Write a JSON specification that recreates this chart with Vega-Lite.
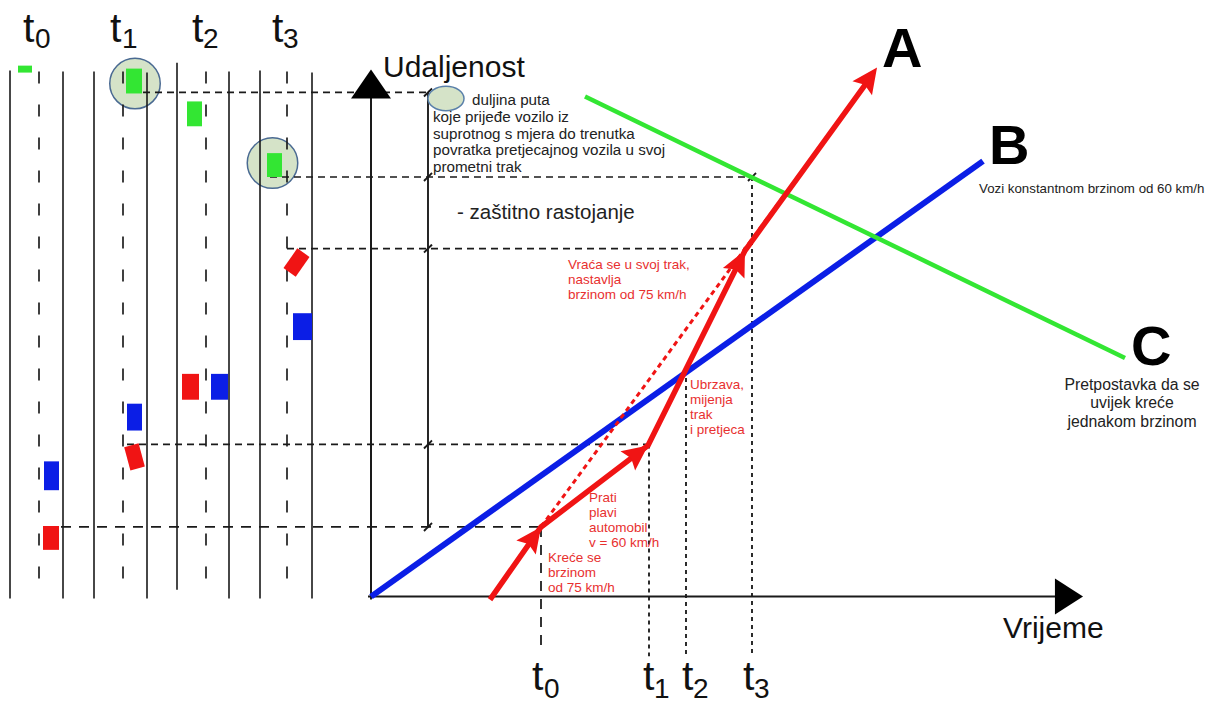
{
  "$schema": "https://vega.github.io/schema/vega-lite/v6.json",
  "width": 1212,
  "height": 704,
  "autosize": {"type": "fit", "contains": "padding"},
  "padding": 0,
  "background": "white",
  "config": {"view": {"stroke": null}},
  "encoding": {
    "x": {"field": "x", "type": "quantitative", "scale": {"domain": [0, 1212], "nice": false, "zero": false}, "axis": null},
    "y": {"field": "y", "type": "quantitative", "scale": {"domain": [0, 704], "reverse": true, "nice": false, "zero": false}, "axis": null}
  },
  "layer": [
    {
      "data": {"values": [{"x": 135, "y": 84}, {"x": 272.5, "y": 164}]},
      "mark": {"type": "point", "shape": "circle", "filled": true, "size": 2550, "fill": "#d5e3c8", "stroke": "#4a6a92", "strokeWidth": 1.5, "opacity": 1}
    },
    {
      "data": {"values": [
        {"kind": "road edge", "x": 10, "y": 71, "x2": 10, "y2": 602},
        {"kind": "road edge", "x": 63, "y": 72, "x2": 63, "y2": 602},
        {"kind": "road edge", "x": 94, "y": 72, "x2": 94, "y2": 602},
        {"kind": "road edge", "x": 147, "y": 73, "x2": 147, "y2": 602},
        {"kind": "road edge", "x": 177, "y": 63, "x2": 177, "y2": 593},
        {"kind": "road edge", "x": 229, "y": 72, "x2": 229, "y2": 602},
        {"kind": "road edge", "x": 260, "y": 71, "x2": 260, "y2": 602},
        {"kind": "road edge", "x": 312, "y": 73, "x2": 312, "y2": 602},
        {"kind": "lane divider", "x": 39, "y": 72, "x2": 39, "y2": 602},
        {"kind": "lane divider", "x": 123, "y": 72, "x2": 123, "y2": 602},
        {"kind": "lane divider", "x": 206, "y": 72, "x2": 206, "y2": 602},
        {"kind": "lane divider", "x": 287, "y": 72, "x2": 287, "y2": 602},
        {"kind": "guide", "x": 143, "y": 93, "x2": 428, "y2": 93},
        {"kind": "guide", "x": 270, "y": 178, "x2": 752, "y2": 178},
        {"kind": "guide", "x": 287, "y": 250, "x2": 745, "y2": 250},
        {"kind": "guide", "x": 127, "y": 447, "x2": 650, "y2": 447},
        {"kind": "start guide", "x": 43, "y": 530, "x2": 541, "y2": 530},
        {"kind": "start guide", "x": 541, "y": 530, "x2": 541, "y2": 653},
        {"kind": "time mark", "x": 649, "y": 447, "x2": 649, "y2": 660},
        {"kind": "time mark", "x": 686, "y": 372, "x2": 686, "y2": 660},
        {"kind": "time mark", "x": 752, "y": 178, "x2": 752, "y2": 660},
        {"kind": "dimension", "x": 428, "y": 93, "x2": 428, "y2": 530},
        {"kind": "tick", "x": 424, "y": 97, "x2": 432, "y2": 89},
        {"kind": "tick", "x": 424, "y": 182, "x2": 432, "y2": 174},
        {"kind": "tick", "x": 424, "y": 254, "x2": 432, "y2": 246},
        {"kind": "tick", "x": 424, "y": 451, "x2": 432, "y2": 443},
        {"kind": "tick", "x": 424, "y": 534, "x2": 432, "y2": 526},
        {"kind": "tick", "x": 748, "y": 182, "x2": 756, "y2": 174},
        {"kind": "axis", "x": 371, "y": 603, "x2": 371, "y2": 92},
        {"kind": "axis", "x": 368, "y": 600, "x2": 1060, "y2": 600}
      ]},
      "mark": {"type": "rule", "color": "#1a1a1a", "strokeCap": "butt"},
      "encoding": {
        "x2": {"field": "x2"},
        "y2": {"field": "y2"},
        "strokeDash": {"field": "kind", "type": "nominal", "legend": null,
          "scale": {"domain": ["road edge", "lane divider", "guide", "start guide", "time mark", "dimension", "tick", "axis"],
                    "range": [[1, 0], [12, 21], [7, 5], [10, 8], [4, 4], [1, 0], [1, 0], [1, 0]]}},
        "strokeWidth": {"field": "kind", "type": "nominal", "legend": null,
          "scale": {"domain": ["road edge", "lane divider", "guide", "start guide", "time mark", "dimension", "tick", "axis"],
                    "range": [1.6, 2, 1.3, 1.5, 1.5, 1.2, 1.5, 5.5]}}
      }
    },
    {
      "data": {"values": [
        {"vehicle": "C", "moment": "t0", "x": 18, "x2": 32, "y": 66, "y2": 73},
        {"vehicle": "C", "moment": "t1", "x": 126, "x2": 142, "y": 69, "y2": 94},
        {"vehicle": "C", "moment": "t2", "x": 187, "x2": 202, "y": 102, "y2": 127},
        {"vehicle": "C", "moment": "t3", "x": 267, "x2": 282, "y": 154, "y2": 178},
        {"vehicle": "B", "moment": "t3", "x": 293, "x2": 312, "y": 315, "y2": 342},
        {"vehicle": "A", "moment": "t2", "x": 182, "x2": 199, "y": 376, "y2": 402},
        {"vehicle": "B", "moment": "t2", "x": 211, "x2": 228, "y": 376, "y2": 402},
        {"vehicle": "B", "moment": "t1", "x": 127, "x2": 142, "y": 406, "y2": 433},
        {"vehicle": "B", "moment": "t0", "x": 44, "x2": 59, "y": 464, "y2": 493},
        {"vehicle": "A", "moment": "t0", "x": 43, "x2": 59, "y": 529, "y2": 553}
      ]},
      "mark": {"type": "rect"},
      "encoding": {
        "x2": {"field": "x2"},
        "y2": {"field": "y2"},
        "color": {"field": "vehicle", "type": "nominal", "legend": null, "scale": {"domain": ["A", "B", "C"], "range": ["#f01414", "#0b1ee6", "#33e633"]}}
      }
    },
    {
      "data": {"values": [
        {"vehicle": "A", "moment": "t3", "x": 296.5, "y": 264, "heading": 35},
        {"vehicle": "A", "moment": "t1", "x": 134.5, "y": 459.5, "heading": -15}
      ]},
      "mark": {"type": "point", "shape": "M-0.62,-1 L0.62,-1 L0.62,1 L-0.62,1 Z", "filled": true, "size": 580, "opacity": 1},
      "encoding": {
        "angle": {"field": "heading", "type": "quantitative", "scale": null},
        "color": {"field": "vehicle", "type": "nominal", "legend": null, "scale": {"domain": ["A", "B", "C"], "range": ["#f01414", "#0b1ee6", "#33e633"]}}
      }
    },
    {
      "data": {"values": [{"x": 371, "y": 84.5}]},
      "mark": {"type": "point", "shape": "M0,-0.725 L1,0.725 L-1,0.725 Z", "filled": true, "size": 1600, "color": "#000", "opacity": 1}
    },
    {
      "data": {"values": [{"x": 1069, "y": 600}]},
      "mark": {"type": "point", "shape": "M-0.78,-1 L0.78,0 L-0.78,1 Z", "filled": true, "size": 1296, "color": "#000", "opacity": 1}
    },
    {
      "data": {"values": [{"vehicle": "B", "x": 371, "y": 600, "x2": 983, "y2": 162}]},
      "mark": {"type": "rule", "strokeWidth": 6, "strokeCap": "butt"},
      "encoding": {
        "x2": {"field": "x2"},
        "y2": {"field": "y2"},
        "color": {"field": "vehicle", "type": "nominal", "legend": null, "scale": {"domain": ["A", "B", "C"], "range": ["#f01414", "#0b1ee6", "#33e633"]}}
      }
    },
    {
      "data": {"values": [{"vehicle": "C", "x": 585, "y": 97, "x2": 1125, "y2": 360}]},
      "mark": {"type": "rule", "strokeWidth": 4.5, "strokeCap": "butt"},
      "encoding": {
        "x2": {"field": "x2"},
        "y2": {"field": "y2"},
        "color": {"field": "vehicle", "type": "nominal", "legend": null, "scale": {"domain": ["A", "B", "C"], "range": ["#f01414", "#0b1ee6", "#33e633"]}}
      }
    },
    {
      "data": {"values": [{"vehicle": "A", "x": 541, "y": 530, "x2": 866, "y2": 84}]},
      "mark": {"type": "rule", "strokeWidth": 3, "strokeDash": [5, 4], "strokeCap": "butt"},
      "encoding": {
        "x2": {"field": "x2"},
        "y2": {"field": "y2"},
        "color": {"field": "vehicle", "type": "nominal", "legend": null, "scale": {"domain": ["A", "B", "C"], "range": ["#f01414", "#0b1ee6", "#33e633"]}}
      }
    },
    {
      "data": {"values": [
        {"vehicle": "A", "step": 1, "x": 490, "y": 603},
        {"vehicle": "A", "step": 2, "x": 541, "y": 530},
        {"vehicle": "A", "step": 3, "x": 648, "y": 448},
        {"vehicle": "A", "step": 4, "x": 745, "y": 252},
        {"vehicle": "A", "step": 5, "x": 866, "y": 84}
      ]},
      "mark": {"type": "line", "strokeWidth": 5.5, "strokeCap": "butt", "strokeJoin": "miter"},
      "encoding": {
        "order": {"field": "step", "type": "quantitative"},
        "color": {"field": "vehicle", "type": "nominal", "legend": null, "scale": {"domain": ["A", "B", "C"], "range": ["#f01414", "#0b1ee6", "#33e633"]}}
      }
    },
    {
      "data": {"values": [
        {"vehicle": "A", "x": 532.7, "y": 541.4, "heading": 36},
        {"vehicle": "A", "x": 636.8, "y": 456.6, "heading": 52.5},
        {"vehicle": "A", "x": 738.7, "y": 264.6, "heading": 26.3},
        {"vehicle": "A", "x": 868.8, "y": 79.5, "heading": 35.6}
      ]},
      "mark": {"type": "point", "shape": "M0,-1 L0.85,0.8 L0,0.5 L-0.85,0.8 Z", "filled": true, "size": 800, "opacity": 1},
      "encoding": {
        "angle": {"field": "heading", "type": "quantitative", "scale": null},
        "color": {"field": "vehicle", "type": "nominal", "legend": null, "scale": {"domain": ["A", "B", "C"], "range": ["#f01414", "#0b1ee6", "#33e633"]}}
      }
    },
    {
      "data": {"values": [{"x": 446, "y": 99}]},
      "mark": {"type": "point", "shape": "M-1,0 A1,0.68 0 1,0 1,0 A1,0.68 0 1,0 -1,0 Z", "filled": true, "size": 1296, "fill": "#d5e3c8", "stroke": "#5a80aa", "strokeWidth": 1.5, "opacity": 1}
    },
    {
      "data": {"values": [{"label": "Udaljenost", "x": 383, "y": 77}, {"label": "Vrijeme", "x": 1003, "y": 642}]},
      "mark": {"type": "text", "align": "left", "baseline": "alphabetic", "font": "Liberation Sans", "fontSize": 30, "color": "#111"},
      "encoding": {"text": {"field": "label"}}
    },
    {
      "data": {"values": [{"label": "- zaštitno rastojanje", "x": 457, "y": 220}]},
      "mark": {"type": "text", "align": "left", "baseline": "alphabetic", "font": "Liberation Sans", "fontSize": 20.5, "color": "#222"},
      "encoding": {"text": {"field": "label"}}
    },
    {
      "data": {"values": [
        {"label": "duljina puta", "x": 472, "y": 106},
        {"label": "koje prijeđe vozilo iz\nsuprotnog s mjera do trenutka\npovratka pretjecajnog vozila u svoj\nprometni trak", "x": 433, "y": 123}
      ]},
      "mark": {"type": "text", "align": "left", "baseline": "alphabetic", "font": "Liberation Sans", "fontSize": 15.2, "lineBreak": "\n", "lineHeight": 16.5, "color": "#222"},
      "encoding": {"text": {"field": "label"}}
    },
    {
      "data": {"values": [{"label": "Vozi konstantnom brzinom od 60 km/h", "x": 979, "y": 194}]},
      "mark": {"type": "text", "align": "left", "baseline": "alphabetic", "font": "Liberation Sans", "fontSize": 13.3, "color": "#222"},
      "encoding": {"text": {"field": "label"}}
    },
    {
      "data": {"values": [{"label": "Pretpostavka da se\nuvijek kreće\njednakom brzinom", "x": 1132, "y": 392}]},
      "mark": {"type": "text", "align": "center", "baseline": "alphabetic", "font": "Liberation Sans", "fontSize": 15.8, "lineBreak": "\n", "lineHeight": 18.5, "color": "#222"},
      "encoding": {"text": {"field": "label"}}
    },
    {
      "data": {"values": [
        {"label": "Vraća se u svoj trak,\nnastavlja\nbrzinom od 75 km/h", "x": 568, "y": 271},
        {"label": "Ubrzava,\nmijenja\ntrak\ni pretjeca", "x": 690, "y": 391},
        {"label": "Prati\nplavi\nautomobil\nv = 60 km/h", "x": 589, "y": 505},
        {"label": "Kreće se\nbrzinom\nod 75 km/h", "x": 548, "y": 565}
      ]},
      "mark": {"type": "text", "align": "left", "baseline": "alphabetic", "font": "Liberation Sans", "fontSize": 13.5, "lineBreak": "\n", "lineHeight": 15, "color": "#e8302f"},
      "encoding": {"text": {"field": "label"}}
    },
    {
      "data": {"values": [{"label": "A", "x": 882, "y": 67}, {"label": "B", "x": 989, "y": 165}, {"label": "C", "x": 1131, "y": 367}]},
      "mark": {"type": "text", "align": "left", "baseline": "alphabetic", "font": "Liberation Sans", "fontSize": 56, "fontWeight": "bold", "color": "#000"},
      "encoding": {"text": {"field": "label"}}
    },
    {
      "data": {"values": [
        {"label": "t", "x": 23, "y": 42}, {"label": "t", "x": 110, "y": 42}, {"label": "t", "x": 192, "y": 42}, {"label": "t", "x": 272, "y": 42},
        {"label": "t", "x": 532, "y": 694}, {"label": "t", "x": 643, "y": 694}, {"label": "t", "x": 682, "y": 694}, {"label": "t", "x": 743, "y": 694}
      ]},
      "mark": {"type": "text", "align": "left", "baseline": "alphabetic", "font": "Liberation Sans", "fontSize": 41, "color": "#111"},
      "encoding": {"text": {"field": "label"}}
    },
    {
      "data": {"values": [
        {"label": "0", "x": 35, "y": 48}, {"label": "1", "x": 122, "y": 48}, {"label": "2", "x": 203, "y": 48}, {"label": "3", "x": 283, "y": 48},
        {"label": "0", "x": 544, "y": 702}, {"label": "1", "x": 654, "y": 702}, {"label": "2", "x": 693, "y": 702}, {"label": "3", "x": 754, "y": 702}
      ]},
      "mark": {"type": "text", "align": "left", "baseline": "alphabetic", "font": "Liberation Sans", "fontSize": 28, "color": "#111"},
      "encoding": {"text": {"field": "label"}}
    }
  ]
}
